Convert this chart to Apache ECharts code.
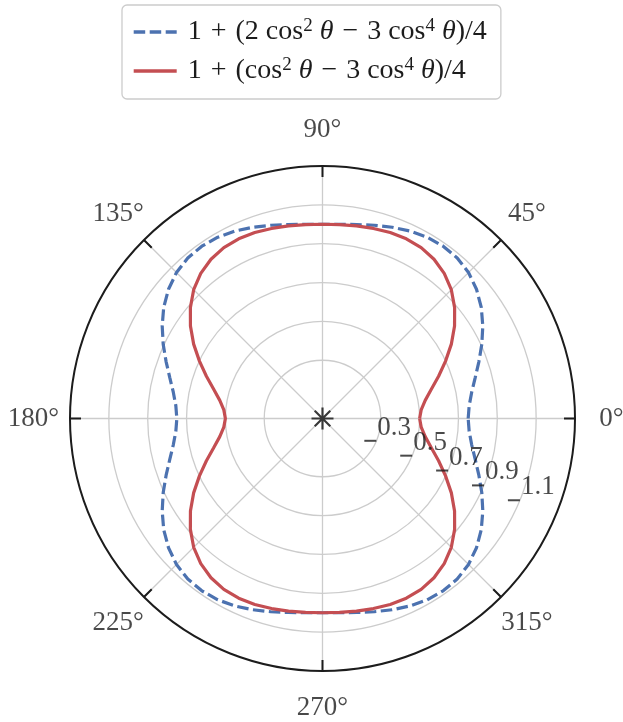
<!DOCTYPE html>
<html><head><meta charset="utf-8">
<script src="https://cdn.jsdelivr.net/npm/echarts@6/dist/echarts.min.js"></script>
<style>html,body{margin:0;padding:0;background:#fff}#c{width:623px;height:722px}</style>
</head><body><div id="c"></div>
<script>
// angles (degrees) at which the curves were read
const thetaDeg = [0,5,10,15,20,25,30,35,40,45,50,55,60,65,70,75,80,85,90,
  95,100,105,110,115,120,125,130,135,140,145,150,155,160,165,170,175,180,
  185,190,195,200,205,210,215,220,225,230,235,240,245,250,255,260,265,270,
  275,280,285,290,295,300,305,310,315,320,325,330,335,340,345,350,355,360];
// blue dashed curve radii
const blueR = [0.750,0.758,0.780,0.814,0.857,0.905,0.953,0.998,1.035,1.063,1.079,1.083,1.078,1.065,1.048,1.030,1.014,1.004,1.000,
  1.004,1.014,1.030,1.048,1.065,1.078,1.083,1.079,1.063,1.035,0.998,0.953,0.905,0.857,0.814,0.780,0.758,0.750,
  0.758,0.780,0.814,0.857,0.905,0.953,0.998,1.035,1.063,1.079,1.083,1.078,1.065,1.048,1.030,1.014,1.004,1.000,
  1.004,1.014,1.030,1.048,1.065,1.078,1.083,1.079,1.063,1.035,0.998,0.953,0.905,0.857,0.814,0.780,0.758,0.750];
// red solid curve radii
const redR = [0.500,0.510,0.537,0.580,0.636,0.699,0.766,0.830,0.888,0.938,0.975,1.001,1.016,1.021,1.019,1.013,1.007,1.002,1.000,
  1.002,1.007,1.013,1.019,1.021,1.016,1.001,0.975,0.938,0.888,0.830,0.766,0.699,0.636,0.580,0.537,0.510,0.500,
  0.510,0.537,0.580,0.636,0.699,0.766,0.830,0.888,0.938,0.975,1.001,1.016,1.021,1.019,1.013,1.007,1.002,1.000,
  1.002,1.007,1.013,1.019,1.021,1.016,1.001,0.975,0.938,0.888,0.830,0.766,0.699,0.636,0.580,0.537,0.510,0.500];
const rTicks = [0.3, 0.5, 0.7, 0.9, 1.1];
const rTickLabels = ['0.3', '0.5', '0.7', '0.9', '1.1'];
const angleTicks = [0, 45, 90, 135, 180, 225, 270, 315];
const angleTickLabels = ['0°', '45°', '90°', '135°', '180°', '225°', '270°', '315°'];
const seriesNames = ['1 + (2 cos² θ − 3 cos⁴ θ)/4', '1 + (cos² θ − 3 cos⁴ θ)/4'];
const legendRich = [
  '{p|1}{o|+}{n|(2 cos}{s|2}{n| }{i|θ}{o|−}{n|3 cos}{s|4}{n| }{i|θ}{n|)/4}',
  '{p|1}{o|+}{n|(cos}{s|2}{n| }{i|θ}{o|−}{n|3 cos}{s|4}{n| }{i|θ}{n|)/4}'
];

const FONT = 'Liberation Serif';
const TXT = '#1c1c1c';
const GRID = '#cccccc';
const CX = 322.5, CY = 418.5, R = 252.5;
const BLUE = '#4C72B0', RED = '#C44E52';
const DASH = [11.5, 4.5];

const chart = echarts.init(document.getElementById('c'), null, {renderer: 'canvas'});
const baseText = {fontFamily: FONT, fontSize: 28, color: TXT, lineHeight: 30};
chart.setOption({
  animation: false,
  backgroundColor: '#fff',
  polar: [
    {center: [CX, CY], radius: R},
    {center: [CX, CY], radius: R + 36.5},
    {center: [CX, CY], radius: R}
  ],
  angleAxis: [
    {polarIndex: 0, type: 'value', min: 0, max: 360, interval: 45, startAngle: 0, clockwise: false,
     axisLine: {show: false}, axisTick: {show: false}, axisLabel: {show: false},
     splitLine: {show: true, lineStyle: {color: GRID, width: 1.3}}},
    {polarIndex: 1, type: 'value', min: 0, max: 360, startAngle: 0, clockwise: false, show: false},
    {polarIndex: 2, type: 'value', min: 0, max: 360, interval: 45, startAngle: 0, clockwise: false, z: 5,
     axisLine: {show: true, lineStyle: {color: TXT, width: 2}},
     axisTick: {show: true, inside: true, length: 11, lineStyle: {color: TXT, width: 2}},
     axisLabel: {show: false}, splitLine: {show: false}}
  ],
  radiusAxis: [
    {polarIndex: 0, type: 'value', min: 0, max: 1.3,
     axisLine: {show: false},
     axisTick: {show: false, customValues: rTicks},
     axisLabel: {show: false, customValues: rTicks},
     splitLine: {show: true, lineStyle: {color: GRID, width: 1.3}}},
    {polarIndex: 1, type: 'value', min: 0, max: 1, show: false},
    {polarIndex: 2, type: 'value', min: 0, max: 1, show: false}
  ],
  legend: {
    data: seriesNames,
    orient: 'vertical',
    left: 122, top: 5,
    padding: [12, 14, 14, 10],
    itemWidth: 43, itemHeight: 14, itemGap: 10,
    backgroundColor: '#fff',
    borderColor: GRID, borderWidth: 1.3, borderRadius: 5,
    itemStyle: {color: 'transparent', borderColor: 'transparent', borderWidth: 0, opacity: 0},
    lineStyle: {width: 3.4},
    formatter: function (name) { return legendRich[seriesNames.indexOf(name)]; },
    textStyle: {
      rich: {
        p: Object.assign({}, baseText, {padding: [0, 0, 0, 6]}),
        n: baseText,
        o: Object.assign({}, baseText, {padding: [0, 9, 0, 9]}),
        i: Object.assign({}, baseText, {fontStyle: 'italic'}),
        s: {fontFamily: FONT, fontSize: 19, color: TXT, lineHeight: 17, verticalAlign: 'top'}
      }
    }
  },
  series: [
    {name: seriesNames[0], type: 'line', coordinateSystem: 'polar', polarIndex: 0,
     data: thetaDeg.map((t, i) => [blueR[i], t]),
     showSymbol: false, symbol: 'none', color: BLUE,
     lineStyle: {color: BLUE, width: 3.2, type: DASH}, z: 3},
    {name: seriesNames[1], type: 'line', coordinateSystem: 'polar', polarIndex: 0,
     data: thetaDeg.map((t, i) => [redR[i], t]),
     showSymbol: false, symbol: 'none', color: RED,
     lineStyle: {color: RED, width: 3.2}, z: 4},
    {type: 'scatter', coordinateSystem: 'polar', polarIndex: 0, silent: true, z: 5,
     data: [[0, 0]],
     symbol: 'path://M0,-1L0,1M-1,0L1,0M-0.7071,-0.7071L0.7071,0.7071M-0.7071,0.7071L0.7071,-0.7071',
     symbolSize: 22,
     itemStyle: {color: 'transparent', borderColor: '#111', borderWidth: 2.2}},
    {type: 'scatter', coordinateSystem: 'polar', polarIndex: 0, silent: true, z: 6,
     data: rTicks.map((r, i) => ({value: [r, 337.5], label: {formatter: rTickLabels[i]}})),
     symbol: 'rect', symbolSize: [12, 2], symbolOffset: [-6, 0],
     itemStyle: {color: TXT},
     label: {show: true, position: 'right', distance: 1, offset: [0, -13],
             fontFamily: FONT, fontSize: 27, color: TXT}},
    {type: 'scatter', coordinateSystem: 'polar', polarIndex: 1, silent: true, z: 6,
     data: angleTicks.map((a, i) => ({value: [1, a], label: {formatter: angleTickLabels[i]}})),
     symbolSize: 1, itemStyle: {color: 'transparent'},
     label: {show: true, position: 'inside', fontFamily: FONT, fontSize: 27, color: TXT}}
  ]
});
</script></body></html>
